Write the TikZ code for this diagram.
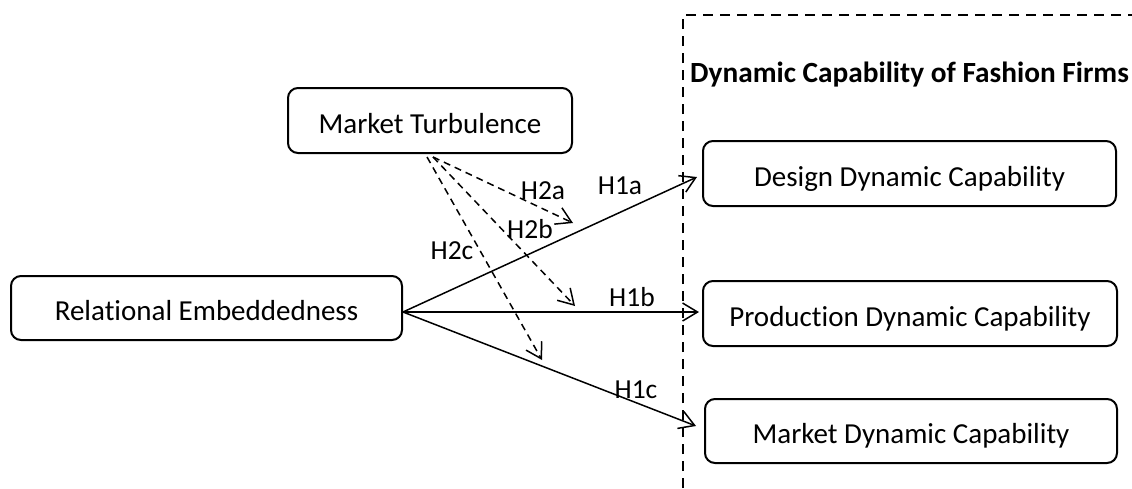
\documentclass[tikz,border=0pt]{standalone}
\usepackage{fontspec}
\setmainfont{Carlito}[Ligatures={NoCommon,NoDiscretionary}]
\usetikzlibrary{arrows.meta}
\begin{document}
\begin{tikzpicture}[x=1pt,y=-1pt,
  box/.style={draw, line width=2pt, rounded corners=10pt,
    font=\fontsize{29}{32}\selectfont, text height=25pt, text depth=0pt,
    inner sep=0pt},
  lbl/.style={font=\fontsize{27.5}{30}\selectfont, inner sep=0pt},
  arr/.style={line width=1.5pt,
    -{Straight Barb[length=15pt,width=18pt,line width=1.5pt]}},
  darr/.style={arr, dash pattern=on 7pt off 5pt},
  frame/.style={line width=2.5pt, dash pattern=on 10pt off 7pt}]
\useasboundingbox (0,0) rectangle (1132,488);

% dashed frame around the capability group
\draw[frame] (683,488) -- (683,15) -- (1132,15);
\node[font=\fontsize{29.3}{32}\selectfont\bfseries, anchor=base west, inner sep=0pt]
  (title) at (690,82) {Dynamic Capability of Fashion Firms};

% boxes
\node[box, minimum width=284pt, minimum height=65pt] (MT) at (430,120.5) {Market Turbulence};
\node[box, minimum width=391pt, minimum height=64pt] (RE) at (206.5,308) {Relational Embeddedness};
\node[box, minimum width=413pt, minimum height=65pt] (DD) at (909.5,173.5) {Design Dynamic Capability};
\node[box, minimum width=414pt, minimum height=65pt] (PD) at (910,313.5) {Production Dynamic Capability};
\node[box, minimum width=412pt, minimum height=64pt] (MD) at (911,431) {Market Dynamic Capability};

% direct effects
\draw[arr] ([yshift=-4pt]RE.east) -- ([shift={(-5pt,-3.5pt)}]DD.west);
\draw[arr] ([yshift=-4pt]RE.east) -- ([shift={(-3pt,1.5pt)}]PD.west);
\draw[arr] ([yshift=-4pt]RE.east) -- ([shift={(-8pt,5pt)}]MD.west);

% moderating effects
\coordinate (h2a) at (573,223);
\coordinate (h2b) at (575,306);
\coordinate (h2c) at (542,360);
\draw[darr] ([shift={(3pt,-3pt)}]MT.south) -- (h2a);
\draw[darr] ([shift={(3pt,-3pt)}]MT.south) -- (h2b);
\draw[darr] ([shift={(-3pt,-3pt)}]MT.south) -- (h2c);

% hypothesis labels
\node[lbl] (l2a) at (543,191) {H2a};
\node[lbl] (l2b) at (530,229) {H2b};
\node[lbl] (l2c) at (452,251) {H2c};
\node[lbl] (l1a) at (620,186) {H1a};
\node[lbl] (l1b) at (632,297) {H1b};
\node[lbl] (l1c) at (636,390) {H1c};
\end{tikzpicture}
\end{document}
